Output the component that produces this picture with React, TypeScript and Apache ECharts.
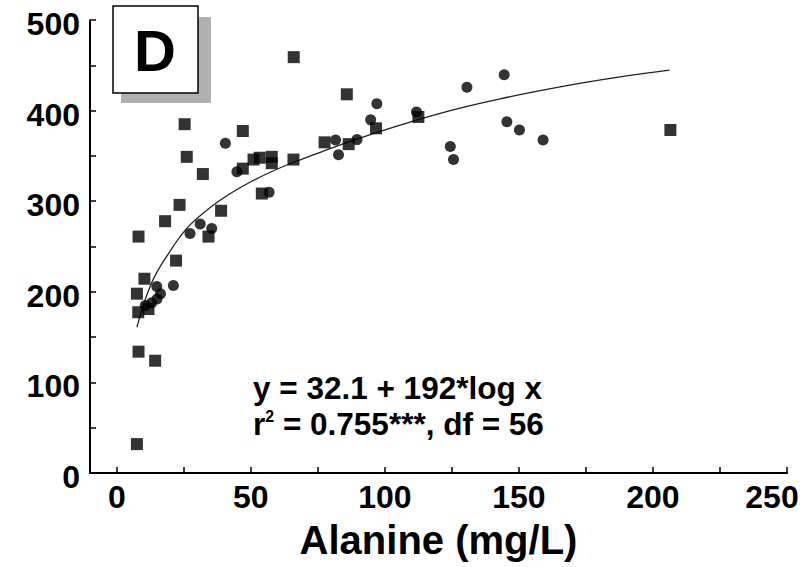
import React, { useEffect, useRef } from 'react';
import * as echarts from 'echarts';

// Squares (filled black squares), [Alanine mg/L, y]
const squarePoints: [number, number][] = [
  [66, 459], [8.1, 261], [25.3, 385], [47, 377.5], [26.1, 349], [32.1, 330],
  [23.4, 296], [38.9, 289.5], [51, 346], [53.3, 348], [57.8, 349], [57.8, 342],
  [65.9, 346], [54.1, 308.5], [47, 336], [34.2, 261], [18, 278], [22.1, 234.5],
  [10.3, 214.5], [7.5, 198], [11.8, 181], [8, 177.5], [8.1, 134], [14.3, 124],
  [7.5, 32], [85.8, 418], [96.7, 380.5], [112.5, 393], [77.5, 365], [86.5, 363],
  [206.5, 378.6],
];

// Circles (filled black dots)
const circlePoints: [number, number][] = [
  [40.5, 364], [27.3, 264.5], [31.1, 275], [35.4, 270], [21.1, 207], [14.9, 206],
  [16.3, 198], [13, 188], [15, 192], [10.6, 185], [56.8, 310], [44.8, 332.5],
  [97, 407.6], [94.7, 389.8], [111.8, 398.6], [81.6, 367.7], [89.6, 368],
  [82.7, 351.4], [124.4, 360.5], [125.6, 346], [130.6, 425.8], [144.5, 439.5],
  [145.5, 387.7], [150.2, 378.6], [159, 367.7],
];

// Fitted curve
const fitCurve: [number, number][] = [
  [7.5, 161], [13, 210], [19.9, 245], [26.1, 270], [32.3, 287], [38.5, 301],
  [44.8, 313], [51, 323], [57.2, 332], [63.4, 340], [69.6, 347], [75.9, 354],
  [87, 366], [105.7, 384], [124.4, 400], [143, 413], [167.9, 427.5],
  [186.6, 436.6], [206.2, 444.6],
];

const xTickValues = [0, 25, 50, 75, 100, 125, 150, 175, 200, 225, 250];
const xLabelValues = [0, 50, 100, 150, 200, 250];
const yTickValues = [0, 50, 100, 150, 200, 250, 300, 350, 400, 450, 500];
const yLabelValues = [0, 100, 200, 300, 400, 500];
const xAxisName = 'Alanine (mg/L)';
const panelLabel = 'D';
const equationLine1 = 'y = 32.1 + 192*log x';
const equationLine2 = 'r{sup|2} = 0.755***, df = 56';

const FONT = '"Liberation Sans", Arial, Helvetica, sans-serif';

export default function App() {
  const ref = useRef<HTMLDivElement>(null);
  useEffect(() => {
    if (!ref.current) return;
    const chart = echarts.init(ref.current, undefined, { renderer: 'svg' });
    const labelStyle = {
      fontSize: 32,
      fontWeight: 'bold' as const,
      fontFamily: FONT,
      color: '#000',
    };
    chart.setOption({
      animation: false,
      backgroundColor: '#fff',
      grid: { left: 90, right: 18, top: 15, bottom: 92 },
      xAxis: {
        type: 'value',
        min: -10,
        max: 250,
        axisLine: { show: true, onZero: false, lineStyle: { color: '#000', width: 2 } },
        axisTick: {
          show: true,
          inside: true,
          length: 6,
          customValues: xTickValues,
          lineStyle: { color: '#000', width: 1.5 },
        },
        axisLabel: {
          ...labelStyle,
          customValues: xLabelValues,
          margin: 8,
          formatter: (v: number) => (v === 250 ? '{r|' + v + '}' : String(v)),
          rich: { r: { ...labelStyle, padding: [0, 30, 0, 0] } },
        },
        splitLine: { show: false },
        name: xAxisName,
        nameLocation: 'middle',
        nameGap: 36,
        nameTextStyle: { ...labelStyle, fontSize: 40, lineHeight: 44 },
      },
      yAxis: {
        type: 'value',
        min: 0,
        max: 500,
        axisLine: { show: true, onZero: false, lineStyle: { color: '#000', width: 2 } },
        axisTick: {
          show: true,
          inside: true,
          length: 6,
          customValues: yTickValues,
          lineStyle: { color: '#000', width: 1.5 },
        },
        axisLabel: {
          customValues: yLabelValues,
          margin: 10,
          formatter: (v: number) => '{a|' + v + '}',
          rich: { a: { ...labelStyle, lineHeight: 20, padding: [8, 0, 0, 0] } },
        },
        splitLine: { show: false },
      },
      series: [
        {
          type: 'line',
          data: fitCurve,
          smooth: 0.4,
          showSymbol: false,
          lineStyle: { color: '#222', width: 1.3 },
          z: 1,
        },
        {
          type: 'scatter',
          data: squarePoints,
          symbol: 'rect',
          symbolSize: 12,
          itemStyle: { color: '#000' },
          z: 2,
        },
        {
          type: 'scatter',
          data: circlePoints,
          symbol: 'circle',
          symbolSize: 11,
          itemStyle: { color: '#000' },
          z: 2,
        },
      ],
      graphic: [
        {
          type: 'rect',
          shape: { x: 121, y: 17, width: 90, height: 86 },
          style: { fill: '#b0b0b0' },
          z: 10,
        },
        {
          type: 'rect',
          shape: { x: 113, y: 6, width: 85, height: 87 },
          style: { fill: '#fff', stroke: '#000', lineWidth: 1.5 },
          z: 11,
        },
        {
          type: 'text',
          x: 155,
          y: 50,
          style: {
            text: panelLabel,
            font: 'bold 58px ' + FONT,
            fill: '#000',
            align: 'center',
            verticalAlign: 'middle',
          },
          z: 12,
        },
        {
          type: 'text',
          x: 253,
          y: 388,
          style: {
            text: equationLine1,
            font: 'bold 31.5px ' + FONT,
            fill: '#000',
            align: 'left',
            verticalAlign: 'middle',
          },
          z: 12,
        },
        {
          type: 'text',
          x: 253,
          y: 424,
          style: {
            text: equationLine2,
            font: 'bold 31.5px ' + FONT,
            fill: '#000',
            align: 'left',
            verticalAlign: 'middle',
            rich: {
              sup: { font: 'bold 16px ' + FONT, fill: '#000', verticalAlign: 'top', padding: [0, 0, 14, 0] },
            },
          },
          z: 12,
        },
      ],
    });
    return () => chart.dispose();
  }, []);
  return (
    <div
      ref={ref}
      style={{ position: 'fixed', left: 0, top: 0, width: 805, height: 567, background: '#fff' }}
    />
  );
}
